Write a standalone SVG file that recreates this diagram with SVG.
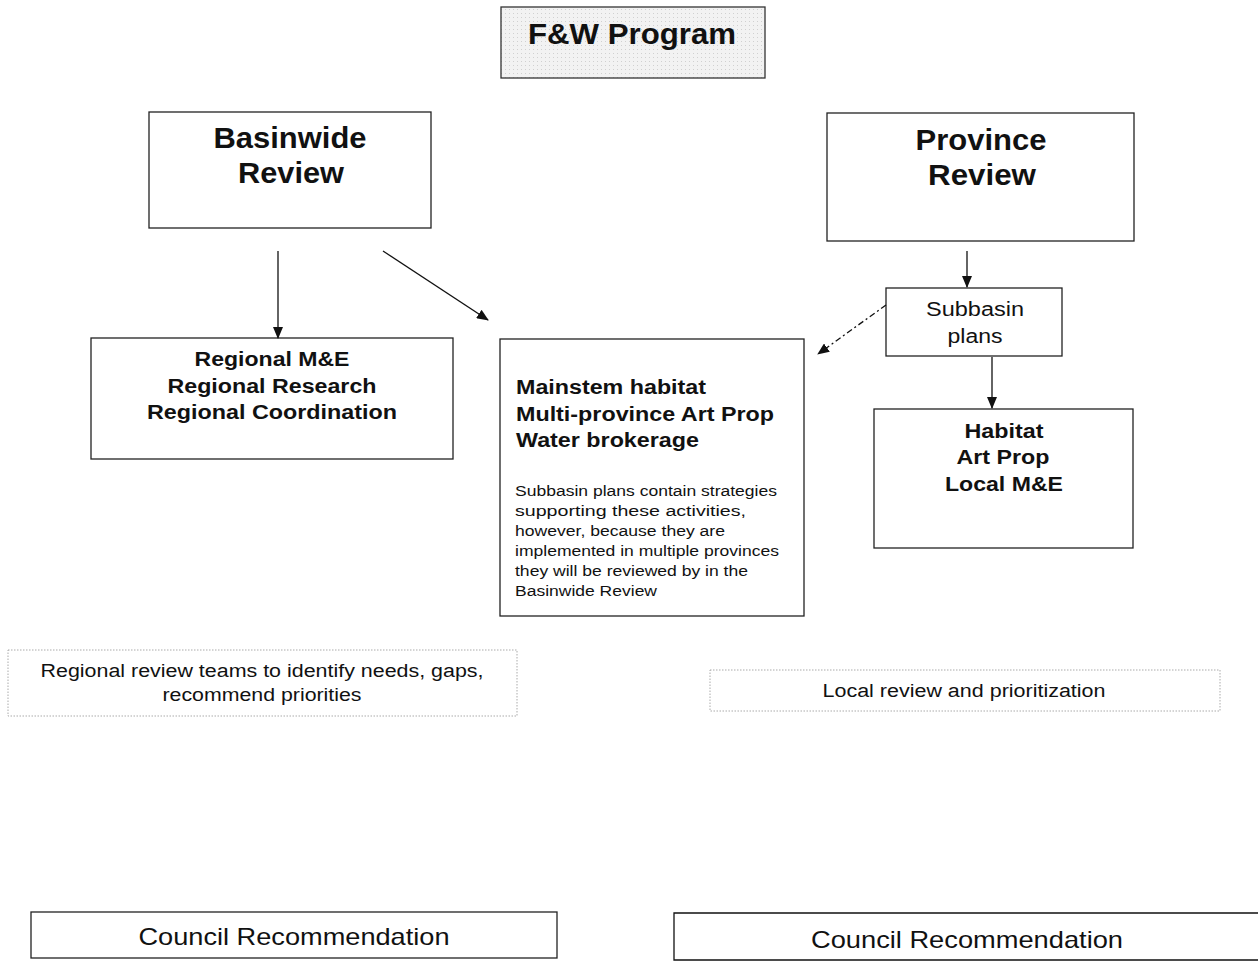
<svg xmlns="http://www.w3.org/2000/svg" width="1258" height="962" viewBox="0 0 1258 962">
<style>
text{font-family:"Liberation Sans",Arial,sans-serif;fill:#111}
.box{fill:#fff;stroke:#222;stroke-width:1.3}
.dot{fill:#fff;stroke:#aaa;stroke-width:1;stroke-dasharray:1.5 1.5}
.big{font-size:29px;font-weight:bold;text-anchor:middle}
.mid{font-size:20px;font-weight:bold}
.c{text-anchor:middle}
.ln{stroke:#111;stroke-width:1.3;fill:none}
</style>
<defs>
<marker id="ah" markerWidth="12" markerHeight="10" refX="11" refY="5" orient="auto" markerUnits="userSpaceOnUse">
<path d="M0,0 L12,5 L0,10 Z" fill="#111"/>
</marker>
<pattern id="tex" width="4" height="4" patternUnits="userSpaceOnUse">
<rect width="4" height="4" fill="#f2f2f2"/>
<rect x="1" y="1" width="1" height="1" fill="#d0d0d0"/>
</pattern>
</defs>
<rect width="1258" height="962" fill="#fff"/>
<g id="fw"><rect x="501" y="7" width="264" height="71" fill="url(#tex)" stroke="#333" stroke-width="1.3"/><text class="big" x="632" y="44" textLength="208" lengthAdjust="spacingAndGlyphs">F&amp;W Program</text></g>
<g id="basinwide"><rect class="box" x="149" y="112" width="282" height="116"/><text class="big" x="290" y="148" textLength="153" lengthAdjust="spacingAndGlyphs">Basinwide</text><text class="big" x="291" y="183" textLength="106" lengthAdjust="spacingAndGlyphs">Review</text></g>
<g id="province"><rect class="box" x="827" y="113" width="307" height="128"/><text class="big" x="981" y="150" textLength="131" lengthAdjust="spacingAndGlyphs">Province</text><text class="big" x="982" y="185" textLength="108" lengthAdjust="spacingAndGlyphs">Review</text></g>
<g id="subbasin"><rect class="box" x="886" y="288" width="176" height="68"/><text class="c" x="975" y="316" font-size="20" textLength="98" lengthAdjust="spacingAndGlyphs">Subbasin</text><text class="c" x="975" y="343" font-size="20" textLength="55" lengthAdjust="spacingAndGlyphs">plans</text></g>
<g id="regional"><rect class="box" x="91" y="338" width="362" height="121"/><text class="mid c" x="272" y="366" textLength="155" lengthAdjust="spacingAndGlyphs">Regional M&amp;E</text><text class="mid c" x="272" y="393" textLength="209" lengthAdjust="spacingAndGlyphs">Regional Research</text><text class="mid c" x="272" y="419" textLength="250" lengthAdjust="spacingAndGlyphs">Regional Coordination</text></g>
<g id="mainstem"><rect class="box" x="500" y="339" width="304" height="277"/>
<text class="mid" x="516" y="394" textLength="190" lengthAdjust="spacingAndGlyphs">Mainstem habitat</text><text class="mid" x="516" y="421" textLength="258" lengthAdjust="spacingAndGlyphs">Multi-province Art Prop</text><text class="mid" x="516" y="447" textLength="183" lengthAdjust="spacingAndGlyphs">Water brokerage</text>
<g font-size="15.5"><text x="515" y="496" textLength="262" lengthAdjust="spacingAndGlyphs">Subbasin plans contain strategies</text><text x="515" y="516" textLength="231" lengthAdjust="spacingAndGlyphs">supporting these activities,</text><text x="515" y="536" textLength="210" lengthAdjust="spacingAndGlyphs">however, because they are</text><text x="515" y="556" textLength="264" lengthAdjust="spacingAndGlyphs">implemented in multiple provinces</text><text x="515" y="576" textLength="233" lengthAdjust="spacingAndGlyphs">they will be reviewed by in the</text><text x="515" y="596" textLength="142" lengthAdjust="spacingAndGlyphs">Basinwide Review</text></g></g>
<g id="habitat"><rect class="box" x="874" y="409" width="259" height="139"/><text class="mid c" x="1004" y="438" textLength="79" lengthAdjust="spacingAndGlyphs">Habitat</text><text class="mid c" x="1003" y="464" textLength="93" lengthAdjust="spacingAndGlyphs">Art Prop</text><text class="mid c" x="1004" y="491" textLength="118" lengthAdjust="spacingAndGlyphs">Local M&amp;E</text></g>
<g id="regteams"><rect class="dot" x="8" y="650" width="509" height="66"/><text class="c" x="262" y="677" font-size="18" textLength="443" lengthAdjust="spacingAndGlyphs">Regional review teams to identify needs, gaps,</text><text class="c" x="262" y="701" font-size="18" textLength="199" lengthAdjust="spacingAndGlyphs">recommend priorities</text></g>
<g id="localreview"><rect class="dot" x="710" y="670" width="510" height="41"/><text class="c" x="964" y="697" font-size="18" textLength="283" lengthAdjust="spacingAndGlyphs">Local review and prioritization</text></g>
<g id="council1"><rect class="box" x="31" y="912" width="526" height="46"/><text class="c" x="294" y="945" font-size="24" textLength="311" lengthAdjust="spacingAndGlyphs">Council Recommendation</text></g>
<g id="council2"><path class="ln" d="M1258,913 H674 V960 H1258"/><text class="c" x="967" y="948" font-size="24" textLength="312" lengthAdjust="spacingAndGlyphs">Council Recommendation</text></g>
<g id="connectors">
<line class="ln" x1="278" y1="251" x2="278" y2="338" marker-end="url(#ah)"/>
<line class="ln" x1="383" y1="251" x2="488" y2="320" marker-end="url(#ah)"/>
<line class="ln" x1="967" y1="251" x2="967" y2="287" marker-end="url(#ah)"/>
<line class="ln" x1="886" y1="305" x2="818" y2="354" stroke-dasharray="6 3 2 3" marker-end="url(#ah)"/>
<line class="ln" x1="992" y1="357" x2="992" y2="408" marker-end="url(#ah)"/>
</g>
</svg>
